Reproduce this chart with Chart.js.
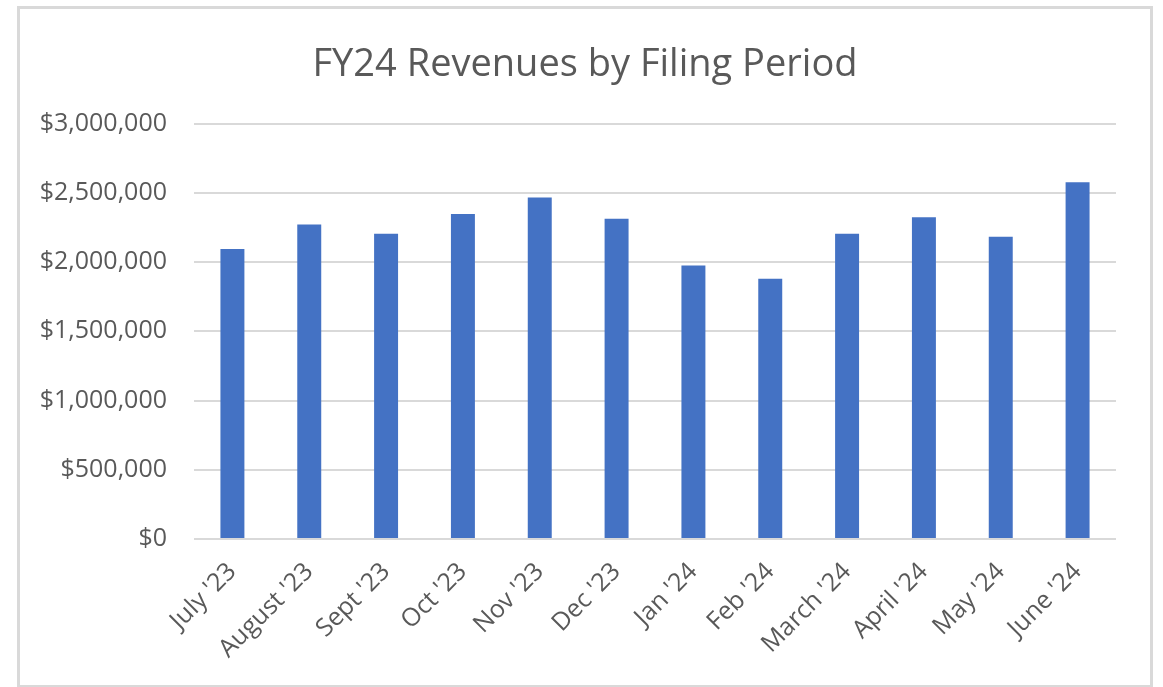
<!DOCTYPE html>
<html>
<head>
<meta charset="utf-8">
<script src="https://cdn.jsdelivr.net/npm/chart.js@4.4.1/dist/chart.umd.min.js"></script>
<style>
    html, body { margin: 0; padding: 0; background: #ffffff; }
    #wrap { position: absolute; left: 0; top: 0; width: 1163px; height: 687px; }
    #frame {
        position: absolute; left: 17px; top: 6px; width: 1130px; height: 676px;
        border: 3px solid #d9d9d9; pointer-events: none;
    }
</style>
</head>
<body>
<div id="wrap">
    <canvas id="revenueChart" width="1163" height="687"></canvas>
    <div id="frame"></div>
</div>
<script>
var periods = ["July '23", "August '23", "Sept '23", "Oct '23", "Nov '23", "Dec '23",
    "Jan '24", "Feb '24", "March '24", "April '24", "May '24", "June '24"];
var revenues = [2095000, 2271000, 2204000, 2348000, 2466000, 2312000,
    1975000, 1879000, 2204000, 2324000, 2182000, 2577000];
var yTicks = [0, 500000, 1000000, 1500000, 2000000, 2500000, 3000000];

var textGray = "#595959";

// center the title over the framed box, not over the padded layout
var titleShift = {
    id: "titleShift",
    afterLayout: function (chart) {
        if (chart.titleBlock) {
            chart.titleBlock.left = 54;
            chart.titleBlock.right = 1116;
            chart.titleBlock.width = 1116 - 54;
        }
    },
};

var ctx = document.getElementById("revenueChart").getContext("2d");
var revenueChart = new Chart(ctx, {
    type: "bar",
    data: {
        labels: periods,
        datasets: [
            {
                label: "Revenue",
                data: revenues,
                backgroundColor: "#4472C4",
                borderWidth: 0,
                barPercentage: 0.312,
                categoryPercentage: 1,
            },
        ],
    },
    plugins: [titleShift],
    options: {
        responsive: false,
        animation: false,
        layout: {
            padding: { left: 24, right: 47, top: 0, bottom: 0 },
        },
        plugins: {
            legend: { display: false },
            tooltip: { enabled: false },
            title: {
                display: true,
                text: "FY24 Revenues by Filing Period",
                color: textGray,
                font: { family: "Open Sans", size: 38, weight: "normal", lineHeight: 1.2 },
                padding: { top: 42, bottom: 36 },
            },
        },
        scales: {
            y: {
                min: 0,
                max: 3000000,
                afterFit: function (scale) { scale.width = 170; },
                afterBuildTicks: function (scale) {
                    scale.ticks = yTicks.map(function (v) { return { value: v }; });
                },
                ticks: {
                    color: textGray,
                    padding: 27,
                    font: { family: "Open Sans", size: 25 },
                    callback: function (value) {
                        return "$" + Number(value).toLocaleString("en-US");
                    },
                },
                grid: { color: "#d9d9d9", lineWidth: 2, drawTicks: false },
                border: { display: false },
            },
            x: {
                afterFit: function (scale) { scale.height = 148; },
                ticks: {
                    color: textGray,
                    minRotation: 45,
                    maxRotation: 45,
                    padding: 18,
                    autoSkip: false,
                    font: { family: "Open Sans", size: 25 },
                },
                grid: { display: false, drawTicks: false },
                border: { display: false },
            },
        },
    },
});
</script>
</body>
</html>
